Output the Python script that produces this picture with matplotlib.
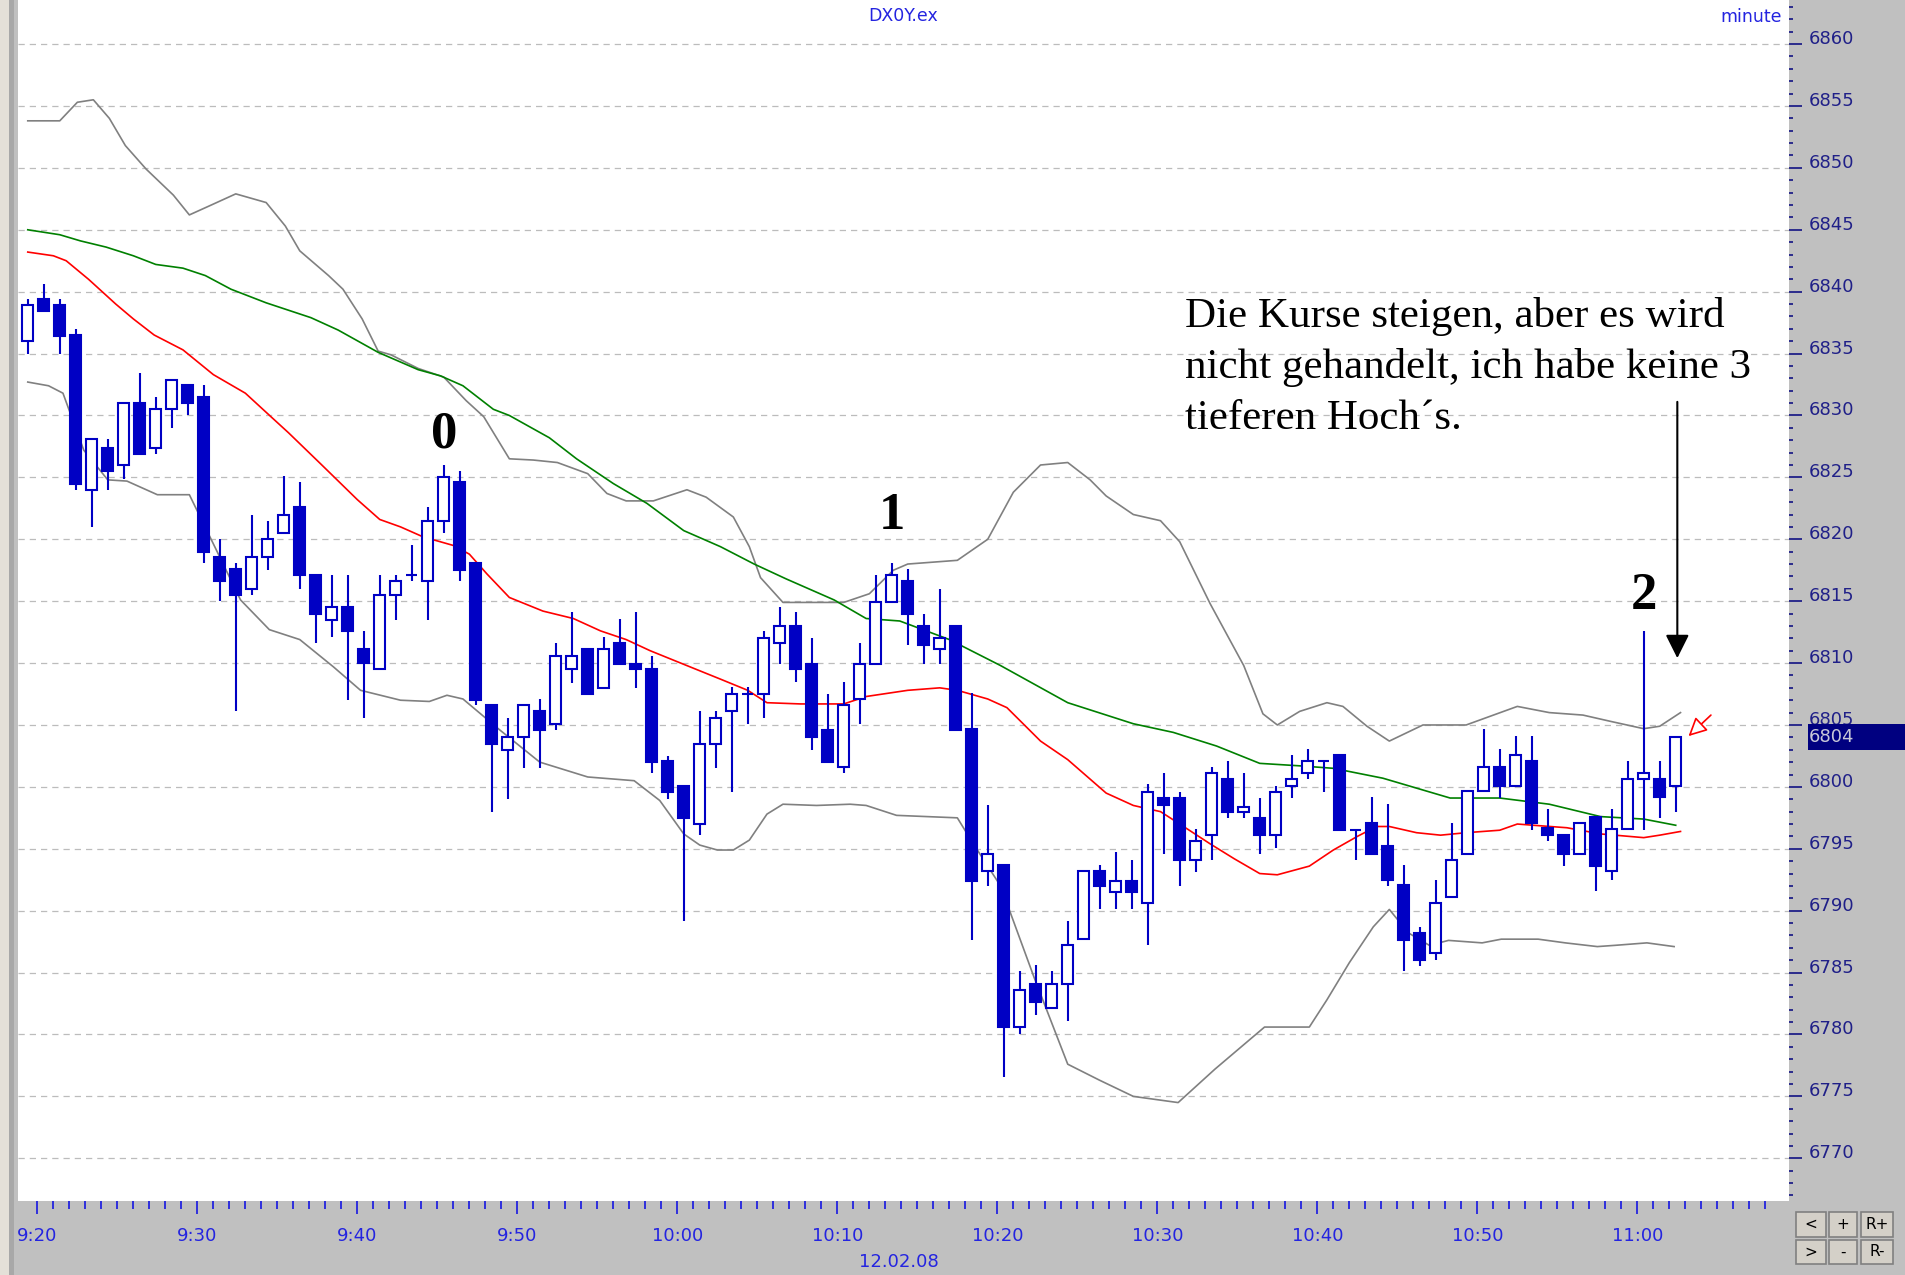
import matplotlib
matplotlib.use("Agg")
import matplotlib.pyplot as plt
import numpy as np
from matplotlib.patches import Rectangle
from matplotlib.transforms import ScaledTranslation, blended_transform_factory

# ---------------- data ----------------
opens = [6836.0, 6839.4, 6838.9, 6836.5, 6824.0, 6827.4, 6826.0, 6831.0, 6827.4, 6830.5,
         6832.5, 6831.5, 6818.6, 6817.6, 6816.0, 6818.6, 6820.5, 6822.6, 6817.1, 6813.5,
         6814.5, 6811.1, 6809.5, 6815.5, 6817.1, 6816.6, 6821.5, 6824.6, 6818.1, 6806.6,
         6803.0, 6804.0, 6806.1, 6805.1, 6809.5, 6811.1, 6808.0, 6811.6, 6809.9, 6809.5,
         6802.1, 6800.1, 6797.0, 6803.5, 6806.1, 6807.5, 6807.5, 6811.6, 6813.0, 6809.9,
         6804.6, 6801.6, 6807.1, 6809.9, 6814.9, 6816.6, 6813.0, 6811.1, 6813.0, 6804.7,
         6793.2, 6793.7, 6780.6, 6784.1, 6782.1, 6784.1, 6787.7, 6793.2, 6791.5, 6792.4,
         6790.6, 6799.1, 6799.1, 6794.1, 6796.1, 6800.6, 6798.0, 6797.5, 6796.1, 6800.1,
         6801.1, 6802.1, 6802.6, 6796.5, 6797.1, 6795.2, 6792.1, 6788.2, 6786.6, 6791.1,
         6794.6, 6799.7, 6801.6, 6800.1, 6802.1, 6796.7, 6796.1, 6794.6, 6797.6, 6793.2,
         6796.6, 6800.6, 6800.6, 6800.1]
highs = [6839.4, 6840.6, 6839.4, 6837.0, 6828.1, 6828.1, 6831.0, 6833.4, 6831.5, 6832.9,
         6832.5, 6832.5, 6820.0, 6818.1, 6822.0, 6821.5, 6825.1, 6824.6, 6817.1, 6817.1,
         6817.1, 6812.6, 6817.1, 6817.1, 6819.5, 6822.6, 6826.0, 6825.5, 6818.1, 6806.6,
         6805.6, 6806.6, 6807.1, 6811.6, 6814.1, 6811.1, 6812.1, 6813.6, 6814.1, 6810.6,
         6802.5, 6800.1, 6806.1, 6806.1, 6808.1, 6808.1, 6812.6, 6814.5, 6814.1, 6812.0,
         6807.5, 6808.5, 6811.6, 6817.1, 6818.1, 6817.6, 6814.0, 6816.0, 6813.0, 6807.6,
         6798.5, 6793.7, 6785.1, 6785.6, 6785.1, 6789.2, 6793.2, 6793.7, 6794.7, 6794.1,
         6800.2, 6801.1, 6799.6, 6796.6, 6801.6, 6802.1, 6801.1, 6799.1, 6800.1, 6802.6,
         6803.1, 6802.1, 6802.6, 6796.5, 6799.2, 6798.6, 6793.7, 6788.7, 6792.5, 6797.1,
         6799.7, 6804.7, 6803.1, 6804.1, 6804.1, 6798.2, 6796.1, 6797.1, 6797.6, 6798.2,
         6802.1, 6812.6, 6802.1, 6804.0]
lows = [6835.0, 6838.4, 6835.0, 6824.0, 6821.0, 6824.0, 6824.9, 6826.9, 6826.9, 6829.0,
        6830.0, 6818.1, 6815.0, 6806.1, 6815.5, 6817.5, 6820.5, 6816.0, 6811.6, 6812.1,
        6807.0, 6805.6, 6809.5, 6813.5, 6816.6, 6813.5, 6820.5, 6816.6, 6806.6, 6798.0,
        6799.0, 6801.5, 6801.5, 6804.6, 6808.4, 6807.5, 6808.0, 6809.9, 6808.0, 6801.1,
        6799.0, 6789.2, 6796.1, 6801.5, 6799.6, 6805.1, 6805.6, 6809.9, 6808.5, 6803.0,
        6802.0, 6801.1, 6805.1, 6809.9, 6814.9, 6811.5, 6809.9, 6809.9, 6804.6, 6787.6,
        6792.0, 6776.6, 6780.0, 6781.6, 6782.1, 6781.1, 6787.7, 6790.1, 6790.1, 6790.1,
        6787.2, 6794.6, 6792.0, 6793.1, 6794.1, 6797.5, 6797.5, 6794.6, 6795.1, 6799.1,
        6800.6, 6799.6, 6796.5, 6794.1, 6794.6, 6792.0, 6785.1, 6785.5, 6786.0, 6791.1,
        6794.6, 6799.7, 6799.1, 6800.1, 6796.5, 6795.6, 6793.6, 6794.6, 6791.6, 6792.5,
        6796.6, 6796.5, 6797.5, 6798.0]
closes = [6838.9, 6838.4, 6836.4, 6824.5, 6828.1, 6825.5, 6831.0, 6826.9, 6830.5, 6832.9,
          6831.0, 6819.0, 6816.6, 6815.5, 6818.6, 6820.0, 6822.0, 6817.1, 6814.0, 6814.5,
          6812.6, 6810.0, 6815.5, 6816.6, 6817.1, 6821.5, 6825.0, 6817.5, 6807.0, 6803.5,
          6804.0, 6806.6, 6804.6, 6810.6, 6810.6, 6807.5, 6811.1, 6809.9, 6809.5, 6802.0,
          6799.6, 6797.5, 6803.5, 6805.6, 6807.5, 6807.5, 6812.0, 6813.0, 6809.5, 6804.0,
          6802.0, 6806.6, 6809.9, 6814.9, 6817.1, 6814.0, 6811.5, 6812.0, 6804.6, 6792.4,
          6794.6, 6780.6, 6783.6, 6782.6, 6784.1, 6787.2, 6793.2, 6792.0, 6792.4, 6791.5,
          6799.6, 6798.5, 6794.1, 6795.6, 6801.1, 6798.0, 6798.4, 6796.1, 6799.6, 6800.6,
          6802.1, 6802.1, 6796.5, 6796.5, 6794.6, 6792.5, 6787.6, 6786.0, 6790.6, 6794.1,
          6799.7, 6801.6, 6800.1, 6802.6, 6797.1, 6796.1, 6794.6, 6797.1, 6793.6, 6796.6,
          6800.6, 6801.1, 6799.2, 6804.0]

# indicator lines (bar index, price)
upper_band_idx = [0, 2.0, 3.1, 4.1, 5.1, 6.1, 7.4, 9.1, 10.1, 11.3, 13.0, 14.9, 16.1, 17.0, 18.8,
                  19.7, 20.9, 21.9, 22.7, 24.4, 26.0, 27.4, 28.5, 30.1, 31.6, 33.1, 35.0, 36.2,
                  37.4, 39.1, 41.2, 42.4, 44.1, 45.1, 45.8, 47.2, 51.0, 52.6, 54.1, 55.0, 58.1,
                  60.0, 61.6, 63.3, 65.0, 66.4, 67.4, 69.1, 70.8, 72.0, 73.9, 76.0, 77.2, 78.1,
                  79.5, 81.2, 82.2, 83.7, 85.1, 87.2, 89.9, 93.1, 95.1, 97.2, 98.9, 101.0,
                  102.0, 103.3]
upper_band = [6853.8, 6853.8, 6855.3, 6855.5, 6854.0, 6851.8, 6849.9, 6847.8, 6846.2, 6846.9,
              6847.9, 6847.2, 6845.3, 6843.3, 6841.3, 6840.2, 6837.8, 6835.2, 6834.9, 6833.8,
              6833.1, 6831.2, 6829.9, 6826.5, 6826.4, 6826.2, 6825.3, 6823.7, 6823.1, 6823.1,
              6824.0, 6823.4, 6821.8, 6819.4, 6816.9, 6814.9, 6814.9, 6815.6, 6817.5, 6818.0,
              6818.3, 6820.0, 6823.8, 6826.0, 6826.2, 6824.8, 6823.5, 6822.0, 6821.5, 6819.8,
              6814.8, 6809.8, 6805.9, 6805.0, 6806.1, 6806.8, 6806.5, 6804.9, 6803.7, 6805.0,
              6805.0, 6806.5, 6806.0, 6805.8, 6805.3, 6804.7, 6804.9, 6806.0]
lower_band_idx = [0, 1.3, 2.2, 3.5, 5.0, 6.2, 8.1, 10.1, 11.8, 13.3, 15.1, 17.0, 19.1, 20.8,
                  23.3, 25.1, 26.2, 27.2, 29.5, 32.0, 35.0, 37.9, 39.5, 41.0, 42.0, 43.1, 44.1,
                  45.1, 46.2, 47.2, 49.3, 51.4, 52.4, 54.3, 58.1, 59.1, 60.8, 62.9, 65.0, 67.0,
                  69.1, 71.9, 74.2, 77.3, 80.1, 81.2, 82.6, 84.1, 85.1, 86.3, 87.6, 88.8, 90.9,
                  92.1, 94.4, 96.1, 98.1, 99.2, 101.2, 102.9]
lower_band = [6832.7, 6832.4, 6831.8, 6827.2, 6824.8, 6824.7, 6823.6, 6823.6, 6819.1, 6815.1,
              6812.7, 6811.9, 6809.7, 6807.8, 6807.0, 6806.9, 6807.4, 6807.1, 6804.6, 6802.0,
              6800.8, 6800.5, 6798.9, 6796.2, 6795.3, 6794.9, 6794.9, 6795.7, 6797.8, 6798.6,
              6798.5, 6798.6, 6798.5, 6797.7, 6797.5, 6795.4, 6792.0, 6784.6, 6777.6, 6776.3,
              6775.0, 6774.5, 6777.2, 6780.6, 6780.6, 6782.8, 6785.8, 6788.7, 6790.1, 6788.2,
              6787.2, 6787.6, 6787.4, 6787.7, 6787.7, 6787.4, 6787.1, 6787.2, 6787.4, 6787.1]
red_ma_idx = [0, 1.6, 2.4, 3.8, 5.5, 6.6, 7.9, 9.7, 11.6, 13.6, 15.2, 16.3, 18.3, 20.6, 22.0,
              23.3, 24.7, 26.6, 27.6, 28.7, 30.1, 32.2, 34.1, 35.8, 37.4, 38.9, 41.0, 43.3,
              45.0, 46.2, 48.3, 51.0, 52.4, 55.0, 57.0, 58.1, 60.0, 61.2, 63.3, 65.0, 66.6,
              67.4, 69.1, 70.8, 72.0, 73.9, 75.4, 77.0, 78.1, 80.1, 81.6, 83.1, 84.3, 85.1,
              86.8, 88.3, 89.9, 92.0, 93.1, 94.1, 96.2, 98.3, 101.0, 102.0, 103.3]
red_ma = [6843.2, 6842.9, 6842.5, 6841.0, 6839.0, 6837.8, 6836.5, 6835.3, 6833.3, 6831.8,
          6829.9, 6828.6, 6826.1, 6823.2, 6821.6, 6821.0, 6820.2, 6819.5, 6818.8, 6817.2,
          6815.3, 6814.2, 6813.6, 6812.6, 6811.9, 6811.0, 6809.9, 6808.7, 6807.8, 6806.8,
          6806.7, 6806.7, 6807.3, 6807.8, 6808.0, 6807.8, 6807.1, 6806.4, 6803.7, 6802.2,
          6800.4, 6799.5, 6798.5, 6798.0, 6797.0, 6795.4, 6794.2, 6793.0, 6792.9, 6793.6,
          6794.9, 6796.0, 6796.8, 6796.8, 6796.3, 6796.1, 6796.3, 6796.5, 6797.0, 6796.9,
          6796.7, 6796.2, 6795.9, 6796.1, 6796.4]
green_ma_idx = [0, 2.0, 3.3, 4.9, 6.6, 8.0, 9.7, 11.1, 12.7, 14.9, 17.7, 19.4, 21.9, 24.4,
                25.8, 27.2, 29.1, 30.1, 32.6, 34.3, 36.6, 38.7, 41.0, 43.3, 45.4, 47.4, 50.4,
                52.4, 54.5, 57.6, 60.8, 65.0, 69.1, 71.6, 74.3, 77.0, 79.5, 81.6, 84.7, 88.9,
                92.0, 95.1, 98.3, 101.0, 103.0]
green_ma = [6845.0, 6844.6, 6844.1, 6843.6, 6842.9, 6842.2, 6841.9, 6841.3, 6840.2, 6839.1,
            6837.9, 6836.9, 6835.1, 6833.7, 6833.2, 6832.4, 6830.5, 6830.0, 6828.2, 6826.5,
            6824.5, 6822.9, 6820.7, 6819.4, 6818.0, 6816.8, 6815.1, 6813.6, 6813.4, 6811.9,
            6809.8, 6806.8, 6805.1, 6804.4, 6803.3, 6801.9, 6801.7, 6801.5, 6800.7, 6799.1,
            6799.1, 6798.6, 6797.6, 6797.4, 6796.9]

time_labels = ["9:20", "9:30", "9:40", "9:50", "10:00", "10:10", "10:20",
               "10:30", "10:40", "10:50", "11:00"]
price_ticks = list(range(6770, 6861, 5))
symbol = "DX0Y.ex"
period = "minute"
date_label = "12.02.08"
wave_labels = ["0", "1", "2"]
wave_bars = [26, 54, 101]
note_lines = ["Die Kurse steigen, aber es wird",
              "nicht gehandelt, ich habe keine 3",
              "tieferen Hoch\u00b4s."]

# ---------------- layout / style ----------------
W, H = 1905, 1275
BAR_SHIFT = -0.6          # bar centre relative to minute tick
BLUE = "#0000c4"
AXBLUE = "#2424e0"
NAVY = "#202088"

fig = plt.figure(figsize=(W / 100, H / 100), dpi=100)
fig.patch.set_facecolor("#c0c0c0")
ax = fig.add_axes([18 / W, 74 / H, (1789 - 18) / W, 1201 / H])
ax.set_facecolor("white")
for s in ax.spines.values():
    s.set_visible(False)

ax.set_xlim(-1.21, 109.48)
ax.set_ylim(6766.55, 6863.56)

# grid
for p in price_ticks:
    ax.axhline(p, color="#bcbcbc", lw=0.9, ls=(0, (5, 4)), zorder=0)

O = np.array(opens); Hh = np.array(highs); L = np.array(lows); C = np.array(closes)
x = np.arange(len(O)) + BAR_SHIFT
up = C >= O
dn = ~up

ax.vlines(x, L, Hh, color=BLUE, lw=1.5, zorder=2)
bw = 0.70
ax.bar(x[up], C[up] - O[up], bottom=O[up], width=bw, facecolor="white",
       edgecolor=BLUE, lw=1.5, zorder=3)
ax.bar(x[dn], O[dn] - C[dn], bottom=C[dn], width=bw, facecolor=BLUE,
       edgecolor=BLUE, lw=1.5, zorder=3)

# indicators
ax.plot(np.array(upper_band_idx) + BAR_SHIFT, upper_band, color="#808080", lw=1.2, zorder=1)
ax.plot(np.array(lower_band_idx) + BAR_SHIFT, lower_band, color="#808080", lw=1.2, zorder=1)
ax.plot(np.array(green_ma_idx) + BAR_SHIFT, green_ma, color="#008000", lw=1.2, zorder=1)
ax.plot(np.array(red_ma_idx) + BAR_SHIFT, red_ma, color="#ff0000", lw=1.2, zorder=1)

# x axis
def to_min(s):
    h, m = s.split(":")
    return int(h) * 60 + int(m) - (9 * 60 + 20)

major_x = [to_min(t) for t in time_labels]
ax.set_xticks(major_x)
ax.set_xticklabels(time_labels)
ax.set_xticks(np.arange(0, 109), minor=True)
ax.tick_params(axis="x", which="major", direction="out", length=9.5, width=1.3,
               color=AXBLUE, labelcolor=AXBLUE, labelsize=13, pad=9)
ax.tick_params(axis="x", which="minor", direction="out", length=5.5, width=1.3,
               color=AXBLUE)

# y axis (right)
ax.yaxis.tick_right()
ax.set_yticks(price_ticks)
ax.set_yticklabels([str(p) for p in price_ticks])
ax.set_yticks(np.arange(6767, 6864), minor=True)
ax.tick_params(axis="y", which="major", direction="out", length=9, width=1.3,
               color=NAVY, labelcolor=NAVY, labelsize=13, pad=5)
ax.tick_params(axis="y", which="minor", direction="out", length=2.8, width=1.3,
               color=NAVY)
shift = ScaledTranslation(0, 7 / 100, fig.dpi_scale_trans)
for lab in ax.get_yticklabels():
    lab.set_transform(lab.get_transform() + shift)

# last price box
blend = blended_transform_factory(fig.transFigure, ax.transData)
last = closes[-1]
fig.add_artist(Rectangle((1808 / W, last - 1.05), (W - 1808) / W, 2.15, transform=blend,
                         facecolor="#000080", edgecolor="none", zorder=5))
fig.text(1809 / W, last, f"{last:.0f}", transform=blend, color="#c8c8d8",
         fontsize=13, va="center", ha="left", zorder=6)

# header texts
fig.text(903 / W, 1 - 16 / H, symbol, color=AXBLUE, fontsize=12.5, ha="center", va="center")
fig.text(1782 / W, 1 - 17 / H, period, color=AXBLUE, fontsize=12.5, ha="right", va="center")
fig.text(899 / W, 1 - 1262 / H, date_label, color=AXBLUE, fontsize=13, ha="center", va="center")

# left border strip
fig.add_artist(Rectangle((0, 0), 9 / W, 1, transform=fig.transFigure,
                         facecolor="#e4e0d8", edgecolor="none"))
fig.add_artist(Rectangle((9 / W, 0), 5 / W, 1, transform=fig.transFigure,
                         facecolor="#a8a8a8", edgecolor="none"))

# buttons
btn_cols = [(1796, 1826), (1829, 1857), (1861, 1893)]
btn_rows = [(1212, 1237), (1240, 1264)]
btn_text = [["<", "+", "R+"], [">", "-", "R-"]]
for r, (y0, y1) in enumerate(btn_rows):
    for c, (x0, x1) in enumerate(btn_cols):
        fig.add_artist(Rectangle((x0 / W, 1 - y1 / H), (x1 - x0) / W, (y1 - y0) / H,
                                 transform=fig.transFigure, facecolor="#d4d0c8",
                                 edgecolor="#808080", lw=1.2))
        fig.text((x0 + x1) / 2 / W, 1 - (y0 + y1) / 2 / H, btn_text[r][c],
                 color="black", fontsize=11, ha="center", va="center")

# wave labels
label_pos = {"0": 6827.4, "1": 6820.8, "2": 6814.4}
for lbl, b in zip(wave_labels, wave_bars):
    ax.text(b + BAR_SHIFT, label_pos[lbl], lbl, family="Liberation Serif", weight="bold",
            fontsize=38, ha="center", va="baseline", zorder=6)

# note
for k, line in enumerate(note_lines):
    fig.text(1185 / W, 1 - (327 + 51 * k) / H, line, family="Liberation Serif",
             fontsize=31, ha="left", va="baseline", color="black")

# black arrow
ax.annotate("", xy=(102.5, 6810.4), xytext=(102.5, 6831.1),
            arrowprops=dict(arrowstyle="-|>", color="black", lw=1.5,
                            mutation_scale=36, shrinkA=0, shrinkB=0), zorder=6)
# small red hollow arrow marker
ax.annotate("", xy=(103.2, 6804.1), xytext=(104.6, 6805.8),
            arrowprops=dict(arrowstyle="-|>", fc="white", ec="red", lw=1.2,
                            mutation_scale=28, shrinkA=0, shrinkB=0), zorder=6)

fig.savefig("out.png", dpi=100, facecolor=fig.get_facecolor())
